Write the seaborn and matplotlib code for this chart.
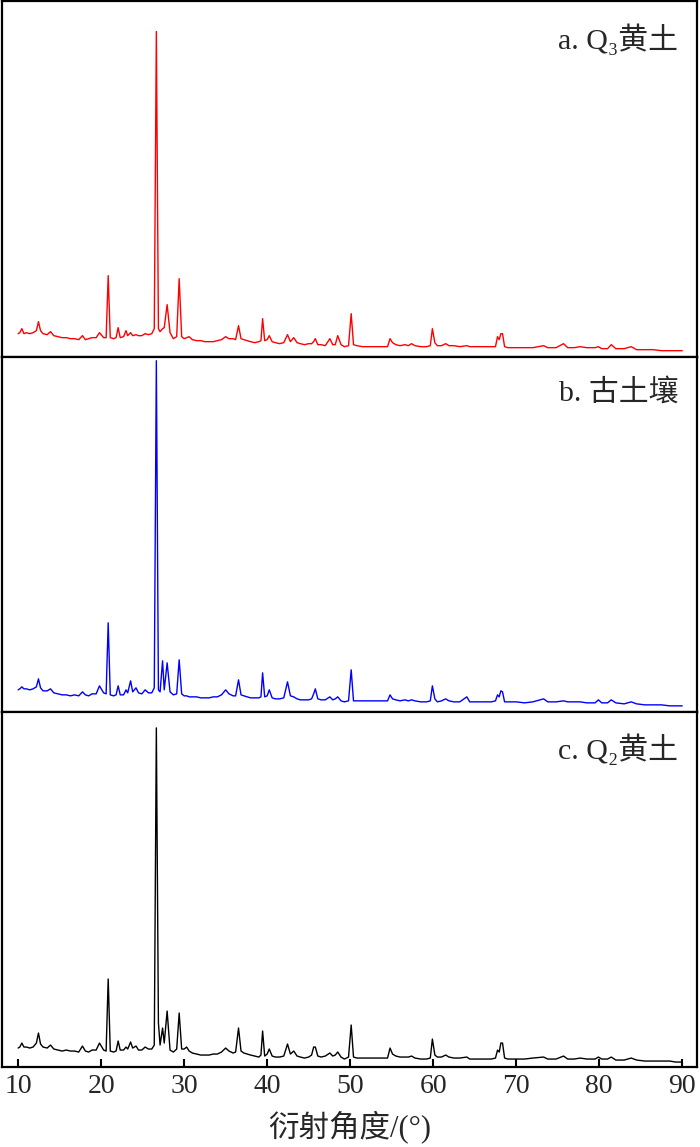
import numpy as np
import pandas as pd
import matplotlib
matplotlib.use("Agg")
import matplotlib.pyplot as plt
import seaborn as sns

# 衍射角 2θ（三条曲线共用）
two_theta = [
    10.0, 10.2, 10.45, 10.7, 11.0, 11.4, 11.8, 12.2, 12.45, 12.7,
    13.0, 13.5, 13.9, 14.3, 14.8, 15.3, 15.8, 16.3, 16.8, 17.3,
    17.75, 18.1, 18.5, 18.9, 19.4, 19.8, 20.3, 20.6, 20.85, 21.1,
    21.5, 21.8, 22.05, 22.3, 22.7, 23.0, 23.2, 23.55, 23.8, 24.2,
    24.5, 24.9, 25.3, 25.7, 26.1, 26.4, 26.65, 26.9, 27.1, 27.4,
    27.6, 27.95, 28.3, 28.7, 29.1, 29.4, 29.7, 30.0, 30.3, 30.6,
    31.0, 31.5, 32.0, 32.5, 33.0, 33.5, 34.0, 34.5, 35.0, 35.4,
    35.9, 36.2, 36.55, 36.85, 37.2, 37.6, 38.0, 38.5, 39.0, 39.25,
    39.45, 39.7, 40.0, 40.25, 40.6, 41.0, 41.5, 42.0, 42.45, 42.8,
    43.2, 43.6, 44.0, 44.5, 45.0, 45.35, 45.6, 45.8, 46.1, 46.5,
    47.0, 47.55, 47.9, 48.2, 48.5, 48.9, 49.3, 49.8, 50.12, 50.4,
    50.8, 51.5, 52.2, 53.0, 53.8, 54.5, 54.8, 55.1, 55.5, 56.0,
    56.6, 57.0, 57.4, 57.8, 58.5, 59.2, 59.65, 59.9, 60.2, 60.5,
    61.0, 61.5, 61.9, 62.5, 63.2, 64.05, 64.4, 65.0, 66.0, 67.0,
    67.5, 67.75, 67.95, 68.15, 68.35, 68.6, 69.0, 70.0, 71.0, 72.0,
    73.3, 73.8, 74.8, 75.7, 76.2, 77.0, 77.7, 78.5, 79.5, 79.9,
    80.3, 81.0, 81.45, 82.0, 83.0, 83.85, 84.5, 85.5, 86.5, 87.5,
    88.5, 89.2, 90.0,
]

# a. Q3黄土
q3_loess = [
    23, 24, 28, 23, 24, 23, 24, 26, 35, 26,
    23, 22, 25, 21, 20, 19, 19, 18, 18, 17,
    21, 17, 18, 19, 19, 24, 19, 19, 81, 19,
    18, 19, 29, 19, 20, 26, 21, 24, 21, 22,
    21, 21, 23, 22, 23, 28, 325, 28, 25, 28,
    29, 52, 24, 18, 20, 78, 20, 18, 19, 20,
    17, 16, 16, 15, 15, 15, 16, 17, 20, 18,
    18, 17, 31, 18, 17, 16, 15, 14, 15, 16,
    38, 16, 17, 21, 15, 14, 13, 14, 22, 15,
    19, 14, 13, 12, 13, 13, 15, 18, 12, 12,
    11, 18, 12, 12, 21, 12, 10, 11, 43, 12,
    11, 10, 10, 10, 10, 10, 18, 14, 12, 11,
    12, 11, 13, 11, 10, 10, 11, 28, 14, 11,
    11, 13, 11, 11, 10, 11, 10, 10, 10, 10,
    10, 20, 17, 23, 23, 10, 9, 9, 9, 9,
    11, 9, 9, 13, 9, 9, 10, 9, 9, 10,
    8, 8, 12, 8, 8, 10, 7, 7, 7, 6,
    6, 6, 6,
]

# b. 古土壤
paleosol = [
    22, 23, 25, 23, 23, 22, 23, 25, 33, 24,
    21, 21, 23, 19, 18, 17, 17, 16, 17, 16,
    20, 17, 16, 18, 18, 26, 19, 18, 89, 17,
    16, 17, 26, 17, 17, 22, 19, 31, 20, 24,
    19, 18, 22, 19, 19, 24, 351, 22, 20, 51,
    22, 49, 20, 17, 18, 52, 18, 16, 16, 15,
    15, 15, 14, 14, 14, 15, 15, 17, 22, 18,
    16, 16, 32, 17, 16, 15, 14, 14, 14, 15,
    39, 15, 16, 22, 14, 13, 13, 14, 30, 16,
    15, 13, 12, 12, 12, 13, 18, 23, 13, 12,
    12, 15, 12, 13, 15, 11, 10, 11, 42, 11,
    11, 11, 11, 11, 11, 11, 17, 13, 12, 11,
    12, 11, 12, 11, 10, 10, 11, 26, 13, 10,
    11, 13, 11, 10, 10, 15, 10, 10, 10, 10,
    11, 17, 15, 21, 20, 10, 10, 10, 9, 10,
    13, 10, 10, 11, 10, 10, 10, 9, 9, 12,
    9, 9, 12, 9, 8, 10, 8, 7, 7, 7,
    6, 6, 6,
]

# c. Q2黄土
q2_loess = [
    19, 20, 24, 20, 20, 19, 20, 24, 34, 23,
    20, 19, 22, 18, 17, 16, 17, 16, 16, 15,
    21, 16, 15, 17, 17, 24, 17, 16, 88, 16,
    15, 16, 26, 17, 17, 20, 18, 25, 19, 21,
    17, 17, 20, 18, 18, 22, 339, 44, 22, 39,
    24, 56, 17, 15, 18, 54, 18, 18, 20, 16,
    14, 13, 12, 12, 12, 13, 13, 15, 19, 16,
    14, 15, 39, 16, 14, 13, 12, 11, 10, 12,
    36, 11, 13, 18, 11, 10, 10, 11, 23, 13,
    16, 11, 10, 9, 10, 12, 20, 20, 11, 10,
    11, 14, 11, 12, 15, 10, 8, 10, 42, 10,
    9, 9, 9, 9, 9, 9, 19, 13, 11, 10,
    10, 10, 11, 9, 8, 8, 9, 28, 12, 10,
    10, 12, 10, 9, 9, 10, 8, 8, 8, 8,
    9, 17, 15, 24, 24, 9, 8, 8, 8, 9,
    10, 8, 8, 11, 8, 8, 9, 8, 8, 10,
    8, 8, 10, 7, 7, 9, 7, 6, 6, 6,
    6, 5, 5,
]

labels = ["a. Q\u2083黄土", "b. 古土壤", "c. Q\u2082黄土"]
colors = ["#ff0000", "#0000ff", "#000000"]
xticks = [10, 20, 30, 40, 50, 60, 70, 80, 90]

sns.set_theme(style="ticks")
fonts = ["Liberation Serif", "Noto Sans CJK SC", "DejaVu Sans"]
plt.rcParams["font.family"] = fonts

fig, axes = plt.subplots(3, 1, figsize=(7, 11.47), dpi=100, sharex=True)
fig.subplots_adjust(left=0.003, right=0.996, top=0.9987, bottom=0.0697, hspace=0)

for ax, vals, lab, c in zip(axes, [q3_loess, paleosol, q2_loess], labels, colors):
    df = pd.DataFrame({"two_theta": two_theta, "intensity": vals})
    sns.lineplot(data=df, x="two_theta", y="intensity", ax=ax, color=c,
                 lw=1.0, estimator=None, sort=False)
    ax.set_ylim(0, 355)
    ax.set_xlim(8.07, 91.8)
    ax.set_yticks([])
    ax.set_ylabel("")
    ax.set_xlabel("")
    for s in ax.spines.values():
        s.set_linewidth(1.6)
        s.set_color("black")
    ax.tick_params(axis="x", which="both", bottom=False, labelbottom=False)
    ax.text(0.973, 0.895, lab, transform=ax.transAxes, ha="right", va="center",
            fontsize=21.5, family=fonts)

ax = axes[-1]
ax.set_xticks(xticks)
ax.tick_params(axis="x", bottom=True, labelbottom=True, direction="in",
               length=6, width=1.5, pad=5, labelsize=20, color="black")
ax.set_xlabel("衍射角度/(°)", fontsize=22, family=fonts, labelpad=8)

fig.savefig("out.png", dpi=100)
